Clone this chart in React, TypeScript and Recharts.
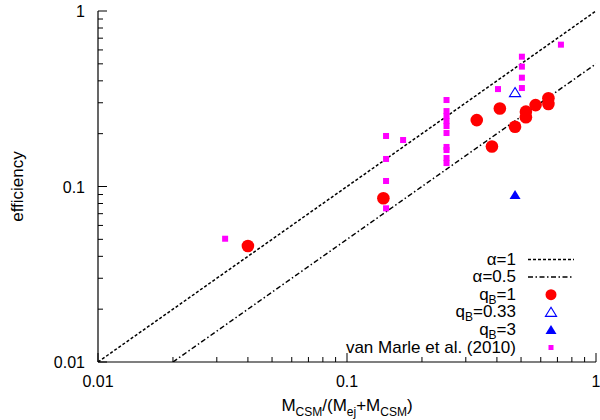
// 効率 vs 質量比 散布図 (log-log)

import { Scatter, ScatterChart, XAxis, YAxis } from "recharts";

const majorTicks = [0.01, 0.1, 1];
const minorTicks = [0.02, 0.03, 0.04, 0.05, 0.06, 0.07, 0.08, 0.09, 0.2, 0.3, 0.4, 0.5, 0.6, 0.7, 0.8, 0.9];
const allTicks = [...majorTicks, ...minorTicks];

// model lines (endpoints)
const alpha1Line = [
  { x: 0.01, y: 0.01 },
  { x: 1, y: 1 },
];
const alphaHalfLine = [
  { x: 0.02, y: 0.01 },
  { x: 1, y: 0.5 },
];

// q_B = 1
const qB1X = [0.04, 0.14, 0.332, 0.382, 0.411, 0.473, 0.523, 0.523, 0.572, 0.644, 0.644];
const qB1Y = [0.0458, 0.0857, 0.239, 0.169, 0.278, 0.219, 0.267, 0.248, 0.291, 0.318, 0.295];

// q_B = 0.33
const qB033X = [0.473];
const qB033Y = [0.343];

// q_B = 3
const qB3X = [0.473];
const qB3Y = [0.0895];

// van Marle et al. (2010)
const vmX = [
  0.0324, 0.1435, 0.1435, 0.1435, 0.1435, 0.168, 0.251, 0.251, 0.251, 0.251, 0.251, 0.251, 0.251, 0.251, 0.251,
  0.251, 0.404, 0.504, 0.504, 0.504, 0.504, 0.723,
];
const vmY = [
  0.0504, 0.194, 0.1435, 0.1075, 0.0751, 0.184, 0.311, 0.269, 0.252, 0.236, 0.221, 0.2017, 0.168, 0.1614, 0.1453,
  0.136, 0.359, 0.549, 0.482, 0.417, 0.364, 0.643,
];

const zip = (xs: number[], ys: number[]) => xs.map((x, i) => ({ x, y: ys[i] }));

const FONT = "'Liberation Sans', Arial, sans-serif";
const isMajor = (v: number) => majorTicks.includes(v);

function BottomTick(props: any) {
  const { x, y, payload } = props;
  const v = payload.value;
  const len = isMajor(v) ? 9 : 5;
  return (
    <g>
      <line x1={x} y1={y} x2={x} y2={y - len} stroke="#000" />
      {isMajor(v) && (
        <text x={x} y={y + 25} textAnchor="middle" fontSize={16} fontFamily={FONT} fill="#000">
          {String(v)}
        </text>
      )}
    </g>
  );
}

function TopTick(props: any) {
  const { x, y, payload } = props;
  const len = isMajor(payload.value) ? 9 : 5;
  return <line x1={x} y1={y} x2={x} y2={y + len} stroke="#000" />;
}

function LeftTick(props: any) {
  const { x, y, payload } = props;
  const v = payload.value;
  const len = isMajor(v) ? 9 : 5;
  return (
    <g>
      <line x1={x} y1={y} x2={x + len} y2={y} stroke="#000" />
      {isMajor(v) && (
        <text x={x - 13} y={y + 6} textAnchor="end" fontSize={16} fontFamily={FONT} fill="#000">
          {String(v)}
        </text>
      )}
    </g>
  );
}

function RightTick(props: any) {
  const { x, y, payload } = props;
  const len = isMajor(payload.value) ? 9 : 5;
  return <line x1={x} y1={y} x2={x - len} y2={y} stroke="#000" />;
}

const RedCircle = (p: any) => <circle cx={p.cx} cy={p.cy} r={6.3} fill="#ff0000" />;
const OpenTriangle = (p: any) => (
  <path d={`M${p.cx},${p.cy - 5} L${p.cx + 5.5},${p.cy + 4} L${p.cx - 5.5},${p.cy + 4} Z`} fill="none" stroke="#0000ff" strokeWidth={1.2} />
);
const FilledTriangle = (p: any) => (
  <path d={`M${p.cx},${p.cy - 5} L${p.cx + 5.5},${p.cy + 4} L${p.cx - 5.5},${p.cy + 4} Z`} fill="#0000ff" />
);
const MagentaSquare = (p: any) => <rect x={p.cx - 3} y={p.cy - 3} width={6} height={6} fill="#ff00ff" />;
const NoMark = () => <g />;

function KeyBox() {
  const right = 516;
  const sx = 551;
  const base = (i: number) => 264.5 + i * 17.6;
  const txt = { fontSize: 17, fontFamily: FONT, fill: "#000", textAnchor: "end" as const };
  return (
    <svg width={600} height={420} style={{ position: "absolute", left: 0, top: 0, pointerEvents: "none" }}>
      <text x={right} y={base(0)} {...txt}>α=1</text>
      <line x1={528} x2={574} y1={base(0) - 5} y2={base(0) - 5} stroke="#000" strokeWidth={1.5} strokeDasharray="3 2" />
      <text x={right} y={base(1)} {...txt}>α=0.5</text>
      <line x1={528} x2={574} y1={base(1) - 5} y2={base(1) - 5} stroke="#000" strokeWidth={1.5} strokeDasharray="5 2.5 1.5 2.5" />
      <text x={right} y={base(2)} {...txt}>
        q<tspan fontSize={12} dy={4}>B</tspan>
        <tspan dy={-4}>=1</tspan>
      </text>
      <circle cx={sx} cy={base(2) - 5} r={5.5} fill="#ff0000" />
      <text x={right} y={base(3)} {...txt}>
        q<tspan fontSize={12} dy={4}>B</tspan>
        <tspan dy={-4}>=0.33</tspan>
      </text>
      {OpenTriangle({ cx: sx, cy: base(3) - 5 })}
      <text x={right} y={base(4)} {...txt}>
        q<tspan fontSize={12} dy={4}>B</tspan>
        <tspan dy={-4}>=3</tspan>
      </text>
      {FilledTriangle({ cx: sx, cy: base(4) - 5 })}
      <text x={right} y={base(5)} {...txt}>van Marle et al. (2010)</text>
      <rect x={sx - 2.5} y={base(5) - 7.5} width={5} height={5} fill="#ff00ff" />
    </svg>
  );
}

export default function App() {
  return (
    <div style={{ position: "absolute", left: 0, top: 0, width: 600, height: 420, background: "#fff" }}>
      <ScatterChart width={600} height={420} margin={{ top: 11, right: 4, bottom: 0, left: 0 }}>
        <XAxis
          xAxisId={0}
          type="number"
          dataKey="x"
          scale="log"
          domain={[0.01, 1]}
          allowDataOverflow
          ticks={allTicks}
          interval={0}
          tickSize={0}
          tickMargin={0}
          tickLine={false}
          tick={<BottomTick />}
          height={58}
          axisLine={{ stroke: "#000", strokeWidth: 1.2 }}
          label={{
            content: () => (
              <text x={347} y={411} textAnchor="middle" fontSize={17} fontFamily={FONT} fill="#000">
                M<tspan fontSize={12} dy={5}>CSM</tspan>
                <tspan dy={-5}>/(M</tspan>
                <tspan fontSize={12} dy={5}>ej</tspan>
                <tspan dy={-5}>+M</tspan>
                <tspan fontSize={12} dy={5}>CSM</tspan>
                <tspan dy={-5}>)</tspan>
              </text>
            ),
          }}
        />
        <XAxis
          xAxisId="top"
          orientation="top"
          type="number"
          dataKey="x"
          scale="log"
          domain={[0.01, 1]}
          allowDataOverflow
          ticks={allTicks}
          interval={0}
          tickSize={0}
          tickMargin={0}
          tickLine={false}
          tick={<TopTick />}
          height={0}
          axisLine={{ stroke: "#000", strokeWidth: 1.2 }}
        />
        <YAxis
          yAxisId={0}
          type="number"
          dataKey="y"
          scale="log"
          domain={[0.01, 1]}
          allowDataOverflow
          ticks={allTicks}
          interval={0}
          tickSize={0}
          tickMargin={0}
          tickLine={false}
          tick={<LeftTick />}
          width={98}
          axisLine={{ stroke: "#000", strokeWidth: 1.2 }}
          label={{
            content: () => (
              <text
                x={17}
                y={186.5}
                transform="rotate(-90 17 186.5)"
                textAnchor="middle"
                dominantBaseline="central"
                fontSize={17}
                fontFamily={FONT}
                fill="#000"
              >
                efficiency
              </text>
            ),
          }}
        />
        <YAxis
          yAxisId="right"
          orientation="right"
          type="number"
          dataKey="y"
          scale="log"
          domain={[0.01, 1]}
          allowDataOverflow
          ticks={allTicks}
          interval={0}
          tickSize={0}
          tickMargin={0}
          tickLine={false}
          tick={<RightTick />}
          width={0}
          axisLine={{ stroke: "#000", strokeWidth: 1.2 }}
        />
        <Scatter
          data={alpha1Line}
          line={{ stroke: "#000", strokeWidth: 1.5, strokeDasharray: "3 2" }}
          lineType="joint"
          shape={NoMark}
          isAnimationActive={false}
        />
        <Scatter
          data={alphaHalfLine}
          line={{ stroke: "#000", strokeWidth: 1.5, strokeDasharray: "5 2.5 1.5 2.5" }}
          lineType="joint"
          shape={NoMark}
          isAnimationActive={false}
        />
        <Scatter data={zip(qB1X, qB1Y)} shape={RedCircle} isAnimationActive={false} />
        <Scatter data={zip(qB033X, qB033Y)} shape={OpenTriangle} isAnimationActive={false} />
        <Scatter data={zip(qB3X, qB3Y)} shape={FilledTriangle} isAnimationActive={false} />
        <Scatter data={zip(vmX, vmY)} shape={MagentaSquare} isAnimationActive={false} />
      </ScatterChart>
      <KeyBox />
    </div>
  );
}
